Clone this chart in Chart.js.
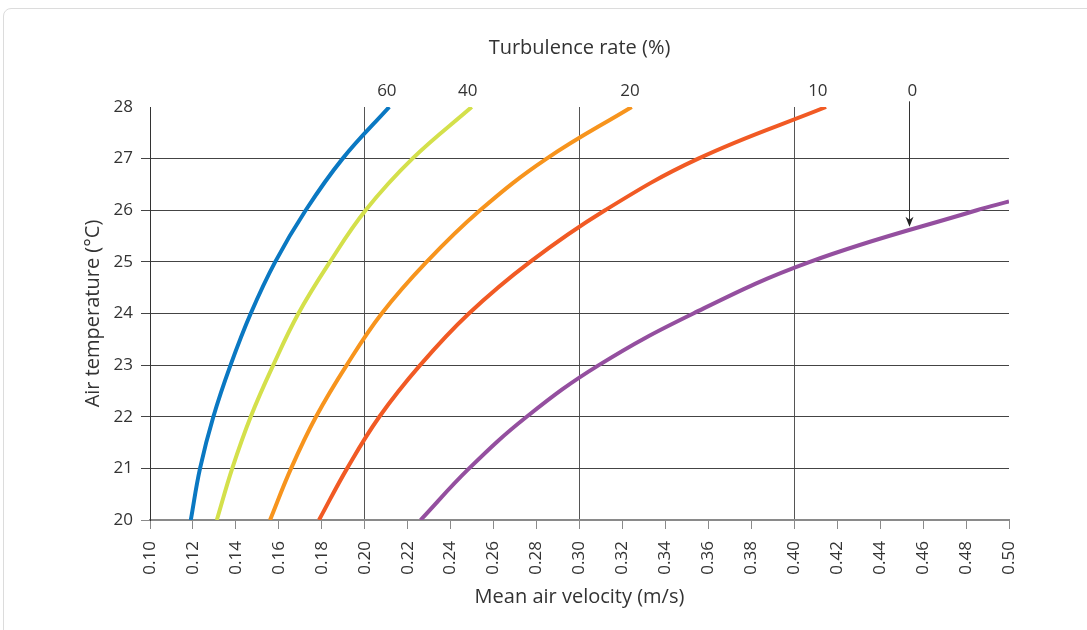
<!DOCTYPE html>
<html>
<head>
<meta charset="utf-8">
<script src="https://cdn.jsdelivr.net/npm/chart.js@4/dist/chart.umd.min.js"></script>
<style>
  html, body { margin: 0; padding: 0; background: #fff; }
  #wrap { position: relative; width: 1087px; height: 630px; overflow: hidden; }
  #card { position: absolute; left: 3px; top: 8px; width: 1200px; height: 700px;
          border: 1px solid #dcdcdc; border-radius: 8px; box-sizing: border-box; }
  #cv { position: absolute; left: 0; top: 0; }
</style>
</head>
<body>
<div id="wrap">
  <div id="card"></div>
  <canvas id="cv" width="1087" height="630"></canvas>
</div>
<script>
// ---- data ----
const temps = [20, 21, 22, 23, 24, 25, 26, 27, 28];
const vel60 = [0.1190, 0.1233, 0.1295, 0.1375, 0.1469, 0.1583, 0.1725, 0.1897, 0.2114];
const vel40 = [0.1311, 0.1383, 0.1469, 0.1574, 0.1691, 0.1838, 0.2004, 0.2222, 0.2498];
const vel20 = [0.1559, 0.1657, 0.1773, 0.1916, 0.2079, 0.2288, 0.2537, 0.2847, 0.3243];
const vel10 = [0.1787, 0.1918, 0.2068, 0.2258, 0.2485, 0.2770, 0.3119, 0.3553, 0.4148];
const temps0 = [20, 21, 22, 23, 24, 25, 26, 26.17];
const vel0 = [0.2260, 0.2486, 0.2754, 0.3090, 0.3530, 0.4073, 0.4850, 0.5000];

const topLabels = ['60', '40', '20', '10', '0'];
const topLabelVel = [0.2103, 0.2480, 0.3235, 0.4110, 0.4550];

const arrowVel = 0.4536;
const arrowFromTemp = 28.11;
const arrowToTemp = 25.68;

const xMin = 0.10, xMax = 0.50, xStep = 0.02;
const yMin = 20, yMax = 28, yStep = 1;
const majorX = [0.20, 0.30, 0.40];

// ---- build ----
function pts(xs, ys) { return xs.map((x, i) => ({ x: x, y: ys[i] })); }
const FONT = "'Open Sans', 'Noto Sans', sans-serif";
const TXT = '#333333';

function ds(label, xs, ys, color) {
  return { label: label, data: pts(xs, ys), borderColor: color, backgroundColor: color,
           borderWidth: 4, pointRadius: 0, tension: 0.4, cubicInterpolationMode: 'default',
           capBezierPoints: false, clip: 0, fill: false };
}

const near = (a, b) => Math.abs(a - b) < 1e-6;

const arrowPlugin = {
  id: 'arrow',
  afterDatasetsDraw(chart) {
    const ctx = chart.ctx, xs = chart.scales.x, ys = chart.scales.y;
    const px = Math.round(xs.getPixelForValue(arrowVel)) + 0.5;
    const y0 = ys.getPixelForValue(arrowFromTemp);
    const y1 = ys.getPixelForValue(arrowToTemp);
    ctx.save();
    ctx.strokeStyle = '#333';
    ctx.fillStyle = '#222';
    ctx.lineWidth = 1;
    ctx.beginPath(); ctx.moveTo(px, y0); ctx.lineTo(px, y1 - 4); ctx.stroke();
    ctx.beginPath();
    ctx.moveTo(px, y1);
    ctx.lineTo(px - 4, y1 - 10);
    ctx.lineTo(px, y1 - 7);
    ctx.lineTo(px + 4, y1 - 10);
    ctx.closePath(); ctx.fill();
    ctx.restore();
  }
};

new Chart(document.getElementById('cv'), {
  type: 'line',
  data: {
    datasets: [
      ds('60', vel60, temps, '#0a78c2'),
      ds('40', vel40, temps, '#d4e04b'),
      ds('20', vel20, temps, '#f7941d'),
      ds('10', vel10, temps, '#f15a24'),
      ds('0', vel0, temps0, '#944f9f')
    ]
  },
  options: {
    responsive: false,
    animation: false,
    layout: { padding: { left: 0, right: 78, top: 0, bottom: 0 } },
    plugins: { legend: { display: false }, tooltip: { enabled: false } },
    scales: {
      x: {
        type: 'linear', position: 'bottom', min: xMin, max: xMax,
        afterFit(s) { s.height = 110; },
        ticks: { stepSize: xStep, minRotation: 90, maxRotation: 90, autoSkip: false,
                 padding: 12, color: TXT, font: { family: FONT, size: 17 },
                 callback: v => Number(v).toFixed(2) },
        grid: {
          color: c => majorX.some(m => near(c.tick.value, m)) ? '#555' : 'rgba(0,0,0,0)',
          tickColor: '#8a8a8a', drawTicks: true, tickLength: 9, lineWidth: 1
        },
        border: { color: '#8a8a8a', width: 2 },
        title: { display: true, text: 'Mean air velocity (m/s)', color: TXT,
                 font: { family: FONT, size: 20 }, padding: { top: 0, bottom: 21 } }
      },
      x2: {
        type: 'linear', position: 'top', min: xMin, max: xMax,
        afterFit(s) { s.height = 107; },
        afterBuildTicks(s) { s.ticks = topLabelVel.map(v => ({ value: v })); },
        ticks: { autoSkip: false, maxRotation: 0, minRotation: 0, padding: 6, color: TXT,
                 font: { family: FONT, size: 17 },
                 callback: (v, i) => topLabels[i] },
        grid: { display: false, drawTicks: false },
        border: { display: false },
        title: { display: true, text: 'Turbulence rate (%)', color: TXT,
                 font: { family: FONT, size: 20 }, padding: { top: 36, bottom: 0 } }
      },
      y: {
        type: 'linear', position: 'left', min: yMin, max: yMax,
        afterFit(s) { s.width = 150; },
        ticks: { stepSize: yStep, padding: 8, color: TXT, font: { family: FONT, size: 17 } },
        grid: {
          color: c => (c.tick.value === yMin || c.tick.value === yMax) ? 'rgba(0,0,0,0)' : '#444',
          tickColor: c => c.tick.value === yMax ? 'rgba(0,0,0,0)' : (c.tick.value === yMin ? '#8a8a8a' : '#444'),
          drawTicks: true, tickLength: 9, lineWidth: 1
        },
        border: { color: '#333', width: 1 },
        title: { display: true, text: 'Air temperature (°C)', color: TXT,
                 font: { family: FONT, size: 20 }, padding: { top: 81, bottom: 0 } }
      }
    }
  },
  plugins: [arrowPlugin]
});
</script>
</body>
</html>
